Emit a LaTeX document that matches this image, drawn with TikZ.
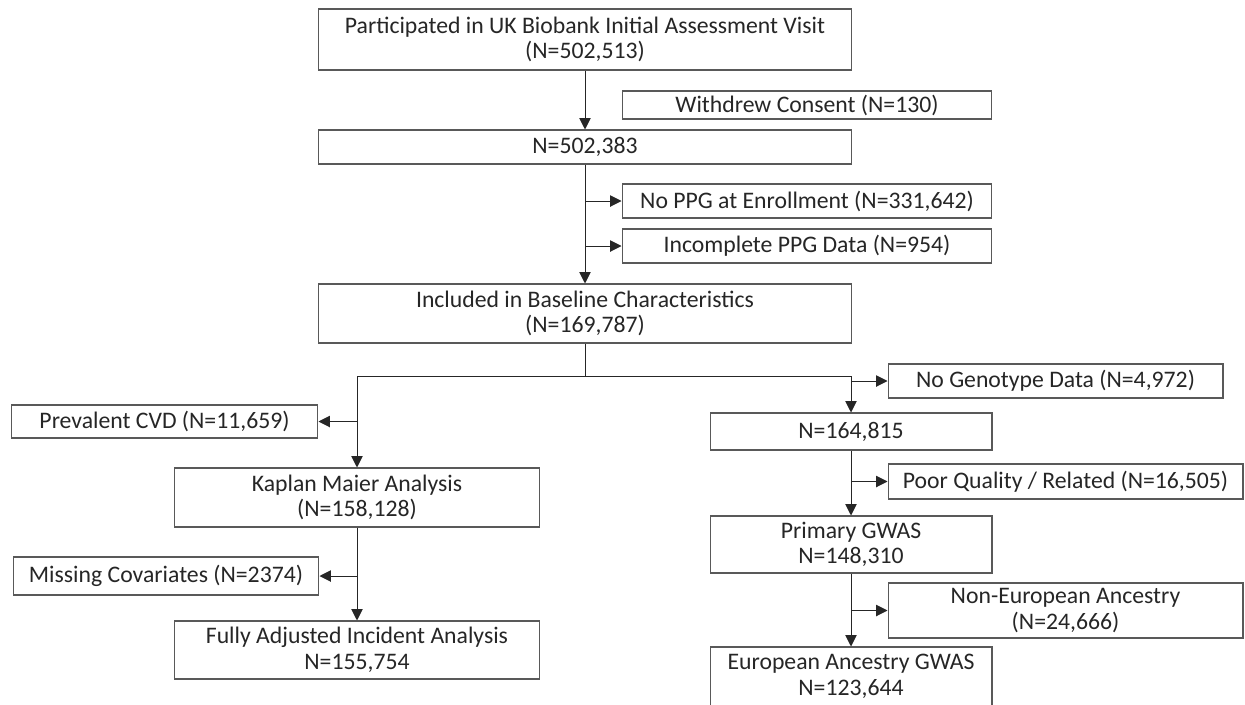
\documentclass[tikz,border=0pt]{standalone}
\usepackage{fontspec}
\setmainfont{Carlito}
\usetikzlibrary{arrows.meta}

\begin{document}
\begin{tikzpicture}[x=0.02cm, y=-0.02cm,
  box/.style={draw=black!65, fill=white, line width=0.6pt, inner sep=0pt, align=center,
    text=black!85, font=\fontsize{13.5}{14.6}\selectfont},
  flow/.style={draw=black!85, line width=0.55pt, -{Triangle[length=6.5pt,width=6.5pt]}},
  link/.style={draw=black!85, line width=0.55pt}]
\useasboundingbox (0,0) rectangle (1245,704);

% main column
\node[box, minimum width=10.68cm, minimum height=1.22cm] (part) at (585,39.5) {Participated in UK Biobank Initial Assessment Visit\\(N=502,513)};
\node[box, minimum width=7.4cm, minimum height=0.56cm] (withdrew) at (807,105) {Withdrew Consent (N=130)};
\node[box, minimum width=10.68cm, minimum height=0.68cm] (n502) at (585,147) {N=502,383};
\node[box, minimum width=7.4cm, minimum height=0.68cm] (noppg) at (807,201) {No PPG at Enrollment (N=331,642)};
\node[box, minimum width=7.4cm, minimum height=0.68cm] (incompl) at (807,246) {Incomplete PPG Data (N=954)};
\node[box, minimum width=10.68cm, minimum height=1.18cm] (incl) at (585,313.5) {Included in Baseline Characteristics\\(N=169,787)};

% left branch
\node[box, minimum width=6.14cm, minimum height=0.66cm] (prev) at (164.5,421.5) {Prevalent CVD (N=11,659)};
\node[box, minimum width=7.32cm, minimum height=1.18cm] (kaplan) at (357,497.5) {Kaplan Maier Analysis\\(N=158,128)};
\node[box, minimum width=6.12cm, minimum height=0.76cm] (missing) at (166,576) {Missing Covariates (N=2374)};
\node[box, minimum width=7.32cm, minimum height=1.16cm] (fully) at (357,650) {Fully Adjusted Incident Analysis\\N=155,754};

% right branch
\node[box, minimum width=6.7cm, minimum height=0.68cm] (nogeno) at (1055.5,381) {No Genotype Data (N=4,972)};
\node[box, minimum width=5.64cm, minimum height=0.74cm] (n164) at (851,431.5) {N=164,815};
\node[box, minimum width=7.1cm, minimum height=0.7cm] (poor) at (1065.5,481.5) {Poor Quality / Related (N=16,505)};
\node[box, minimum width=5.64cm, minimum height=1.14cm] (primary) at (851,544.5) {Primary GWAS\\N=148,310};
\node[box, minimum width=7.1cm, minimum height=1.1cm] (noneur) at (1065.5,610.5) {Non-European Ancestry\\(N=24,666)};
\node[box, minimum width=5.64cm, minimum height=1.18cm] (european) at (851,676.5) {European Ancestry GWAS\\N=123,644};

\draw[flow] (part) -- (n502);
\draw[flow] (n502) -- (incl);
\draw[flow] (n502.south |- noppg.west) -- (noppg.west);
\draw[flow] (n502.south |- incompl.west) -- (incompl.west);

\draw[link] (incl.south) -- ++(0,33) coordinate (split);
\draw[flow] (split) -| (kaplan.north);
\draw[flow] (split) -| (n164.north);

\draw[flow] (kaplan.north |- prev.east) -- (prev.east);
\draw[flow] (kaplan) -- (fully);
\draw[flow] (kaplan.south |- missing.east) -- (missing.east);

\draw[flow] (n164.north |- nogeno.west) -- (nogeno.west);
\draw[flow] (n164) -- (primary);
\draw[flow] (n164.south |- poor.west) -- (poor.west);
\draw[flow] (primary) -- (european);
\draw[flow] (primary.south |- noneur.west) -- (noneur.west);
\end{tikzpicture}
\end{document}
